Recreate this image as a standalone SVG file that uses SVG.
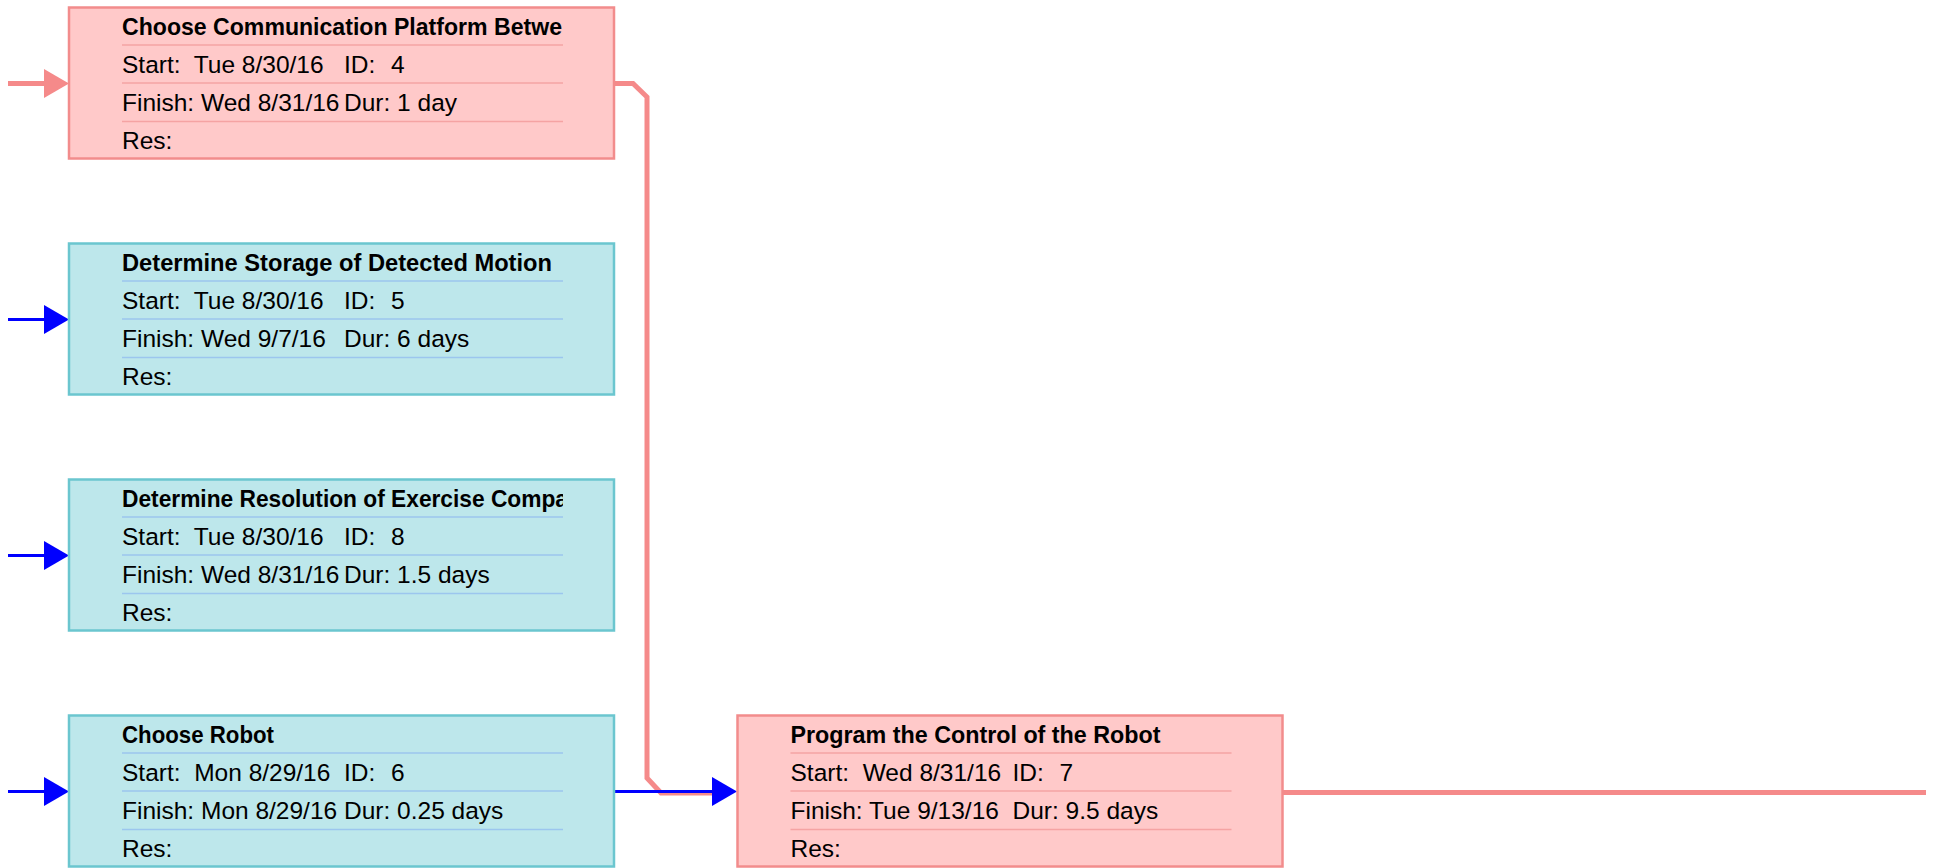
<svg xmlns="http://www.w3.org/2000/svg" width="1936" height="868" viewBox="0 0 1936 868">
<style>
  text { font-family: "Liberation Sans", Arial, sans-serif; font-size: 24.5px; fill: #000; white-space: pre; }
  .title { font-weight: bold; font-size: 24px; }
  .crit rect { fill: #FFC9C9; stroke: #F28C8C; stroke-width: 2.5; }
  .crit line { stroke: #F5A3A3; stroke-width: 1.5; }
  .norm rect { fill: #BDE7EB; stroke: #6BC6CF; stroke-width: 2.5; }
  .norm line { stroke: #9CC6EE; stroke-width: 1.5; }
  .pinkc { fill: none; stroke: #F58A8A; stroke-width: 5; }
  .bluec { fill: none; stroke: #0000FF; stroke-width: 3; }
</style>
<defs>
  <clipPath id="tclip"><rect x="53" y="0" width="441" height="40"/></clipPath>
  <marker id="pinkArrow" markerUnits="userSpaceOnUse" markerWidth="26" markerHeight="30" refX="0" refY="15" orient="auto">
    <polygon points="0,0.5 25,15 0,29.5" fill="#F58A8A"/>
  </marker>
  <marker id="blueArrow" markerUnits="userSpaceOnUse" markerWidth="26" markerHeight="30" refX="0" refY="15" orient="auto">
    <polygon points="0,0.5 25,15 0,29.5" fill="#0000FF"/>
  </marker>
</defs>

<g id="connectors">
  <path class="pinkc" d="M8,83.5 H44" marker-end="url(#pinkArrow)"/>
  <path class="bluec" d="M8,319.5 H44" marker-end="url(#blueArrow)"/>
  <path class="bluec" d="M8,555.5 H44" marker-end="url(#blueArrow)"/>
  <path class="bluec" d="M8,791.5 H44" marker-end="url(#blueArrow)"/>
  <path class="pinkc" d="M614,83.5 H633 L647,97 V778 L661,793 H712"/>
  <path class="bluec" d="M615,791.5 H712" marker-end="url(#blueArrow)"/>
  <path class="pinkc" d="M1283,792.5 H1926"/>
</g>

<g id="node4" class="crit" transform="translate(69,7.5)">
  <rect x="0" y="0" width="545" height="151"/>
  <line x1="53" y1="37.5" x2="494" y2="37.5"/>
  <line x1="53" y1="75.5" x2="494" y2="75.5"/>
  <line x1="53" y1="114" x2="494" y2="114"/>
  <text class="title" x="53" y="27.5" clip-path="url(#tclip)" textLength="440" lengthAdjust="spacingAndGlyphs">Choose Communication Platform Betwe</text>
  <text x="53" y="65.5">Start:  Tue 8/30/16</text>
  <text x="275" y="65.5">ID:</text>
  <text x="322" y="65.5">4</text>
  <text x="53" y="103.5">Finish: Wed 8/31/16</text>
  <text x="275" y="103.5">Dur: 1 day</text>
  <text x="53" y="141.5">Res:</text>
</g>

<g id="node5" class="norm" transform="translate(69,243.5)">
  <rect x="0" y="0" width="545" height="151"/>
  <line x1="53" y1="37.5" x2="494" y2="37.5"/>
  <line x1="53" y1="75.5" x2="494" y2="75.5"/>
  <line x1="53" y1="114" x2="494" y2="114"/>
  <text class="title" x="53" y="27.5" clip-path="url(#tclip)" textLength="430" lengthAdjust="spacingAndGlyphs">Determine Storage of Detected Motion</text>
  <text x="53" y="65.5">Start:  Tue 8/30/16</text>
  <text x="275" y="65.5">ID:</text>
  <text x="322" y="65.5">5</text>
  <text x="53" y="103.5">Finish: Wed 9/7/16</text>
  <text x="275" y="103.5">Dur: 6 days</text>
  <text x="53" y="141.5">Res:</text>
</g>

<g id="node8" class="norm" transform="translate(69,479.5)">
  <rect x="0" y="0" width="545" height="151"/>
  <line x1="53" y1="37.5" x2="494" y2="37.5"/>
  <line x1="53" y1="75.5" x2="494" y2="75.5"/>
  <line x1="53" y1="114" x2="494" y2="114"/>
  <text class="title" x="53" y="27.5" clip-path="url(#tclip)" textLength="446" lengthAdjust="spacingAndGlyphs">Determine Resolution of Exercise Compa</text>
  <text x="53" y="65.5">Start:  Tue 8/30/16</text>
  <text x="275" y="65.5">ID:</text>
  <text x="322" y="65.5">8</text>
  <text x="53" y="103.5">Finish: Wed 8/31/16</text>
  <text x="275" y="103.5">Dur: 1.5 days</text>
  <text x="53" y="141.5">Res:</text>
</g>

<g id="node6" class="norm" transform="translate(69,715.5)">
  <rect x="0" y="0" width="545" height="151"/>
  <line x1="53" y1="37.5" x2="494" y2="37.5"/>
  <line x1="53" y1="75.5" x2="494" y2="75.5"/>
  <line x1="53" y1="114" x2="494" y2="114"/>
  <text class="title" x="53" y="27.5" clip-path="url(#tclip)" textLength="152" lengthAdjust="spacingAndGlyphs">Choose Robot</text>
  <text x="53" y="65.5">Start:  Mon 8/29/16</text>
  <text x="275" y="65.5">ID:</text>
  <text x="322" y="65.5">6</text>
  <text x="53" y="103.5">Finish: Mon 8/29/16</text>
  <text x="275" y="103.5">Dur: 0.25 days</text>
  <text x="53" y="141.5">Res:</text>
</g>

<g id="node7" class="crit" transform="translate(737.5,715.5)">
  <rect x="0" y="0" width="545" height="151"/>
  <line x1="53" y1="37.5" x2="494" y2="37.5"/>
  <line x1="53" y1="75.5" x2="494" y2="75.5"/>
  <line x1="53" y1="114" x2="494" y2="114"/>
  <text class="title" x="53" y="27.5" clip-path="url(#tclip)" textLength="370" lengthAdjust="spacingAndGlyphs">Program the Control of the Robot</text>
  <text x="53" y="65.5">Start:  Wed 8/31/16</text>
  <text x="275" y="65.5">ID:</text>
  <text x="322" y="65.5">7</text>
  <text x="53" y="103.5">Finish: Tue 9/13/16</text>
  <text x="275" y="103.5">Dur: 9.5 days</text>
  <text x="53" y="141.5">Res:</text>
</g>
</svg>
